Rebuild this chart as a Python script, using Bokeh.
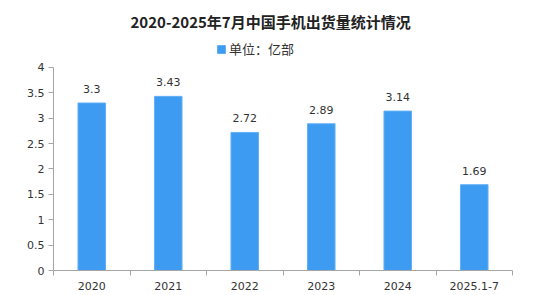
from bokeh.plotting import figure
from bokeh.models import (ColumnDataSource, FixedTicker, Range1d, Legend, LegendItem, Title)
from bokeh.core.properties import value
from bokeh.embed import file_html
from bokeh.resources import INLINE

categories = ["2020", "2021", "2022", "2023", "2024", "2025.1-7"]
shipments = [3.3, 3.43, 2.72, 2.89, 3.14, 1.69]
value_labels = ["3.3", "3.43", "2.72", "2.89", "3.14", "1.69"]
y_ticks = [0, 0.5, 1, 1.5, 2, 2.5, 3, 3.5, 4]
y_tick_labels = ["0", "0.5", "1", "1.5", "2", "2.5", "3", "3.5", "4"]
title_text = "2020-2025年7月中国手机出货量统计情况"
legend_text = "单位：亿部"

n = len(categories)
centers = [i + 0.5 for i in range(n)]
src = ColumnDataSource(dict(x=centers, top=shipments, lab=value_labels))

p = figure(width=558, height=295, output_backend="svg", toolbar_location=None,
           x_range=Range1d(0, n), y_range=Range1d(0, 4.57),
           min_border_left=53, min_border_right=46, min_border_bottom=25, min_border_top=38)
p.outline_line_color = None
p.xgrid.grid_line_color = None
p.ygrid.grid_line_color = None
p.background_fill_color = "white"
p.border_fill_color = "white"

bars = p.vbar(x="x", top="top", width=0.36, bottom=0, source=src,
              fill_color="#3d9bf1", line_color="#62b0f6", line_width=1)
p.text(x="x", y="top", text="lab", source=src, text_align="center", text_baseline="bottom",
       y_offset=-10, text_font=value("DejaVu Sans"), text_font_size="11px", text_color="#333333")

axis_color = "#a6a6a6"
xa = p.xaxis[0]
xa.ticker = FixedTicker(ticks=centers, minor_ticks=list(range(n + 1)))
xa.major_label_overrides = {c: cat for c, cat in zip(centers, categories)}
xa.major_tick_line_color = None
xa.minor_tick_line_color = axis_color
xa.minor_tick_in = 0
xa.minor_tick_out = 5
xa.axis_line_color = axis_color
xa.major_label_text_font = "DejaVu Sans"
xa.major_label_text_font_size = "11px"
xa.major_label_text_color = "#333333"
xa.major_label_standoff = 5

ya = p.yaxis[0]
ya.ticker = FixedTicker(ticks=y_ticks)
ya.bounds = (0, 4)
ya.major_label_overrides = {t: l for t, l in zip(y_ticks, y_tick_labels)}
ya.minor_tick_line_color = None
ya.major_tick_line_color = axis_color
ya.major_tick_in = 0
ya.major_tick_out = 5
ya.axis_line_color = axis_color
ya.major_label_text_font = "DejaVu Sans"
ya.major_label_text_font_size = "11px"
ya.major_label_text_color = "#333333"
ya.major_label_standoff = 4

legend = Legend(items=[LegendItem(label=legend_text, renderers=[bars])],
                orientation="horizontal", location=(163, 212),
                label_text_font="Noto Sans CJK SC", label_text_font_size="13px",
                label_text_color="#333333", glyph_width=10, glyph_height=10,
                label_standoff=3, padding=1, margin=0, border_line_color=None,
                background_fill_alpha=0)
p.add_layout(legend, "center")

p.add_layout(Title(text=title_text, align="left", text_font="Noto Sans CJK SC",
                   text_font_size="15px", text_font_style="bold", text_color="#222222",
                   offset=77, standoff=13), "above")

open("out.html", "w").write(file_html(p, INLINE))
